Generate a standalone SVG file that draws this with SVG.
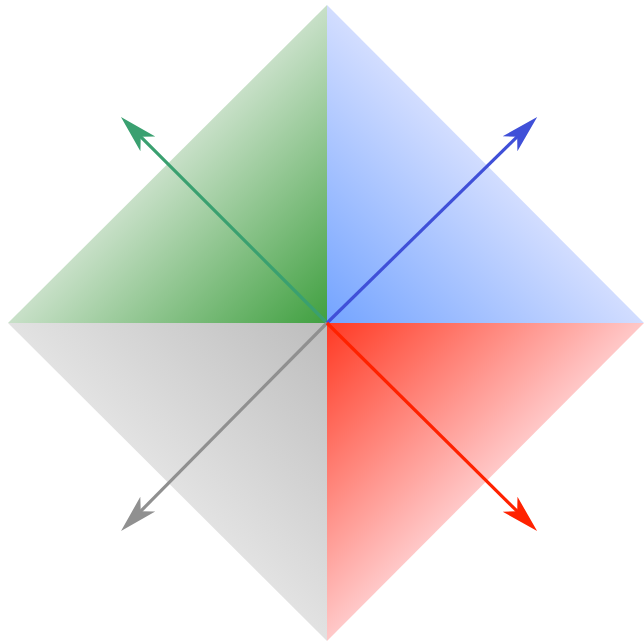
<svg xmlns="http://www.w3.org/2000/svg" width="644" height="643" viewBox="0 0 644 643">
<defs>
<linearGradient id="gG" gradientUnits="userSpaceOnUse" x1="327" y1="323" x2="167.5" y2="164"><stop offset="0" stop-color="#40a040"/><stop offset="1" stop-color="#c8e0c8"/></linearGradient>
<linearGradient id="gB" gradientUnits="userSpaceOnUse" x1="327" y1="323" x2="485.5" y2="164"><stop offset="0" stop-color="#74a4ff"/><stop offset="1" stop-color="#d2ddff"/></linearGradient>
<linearGradient id="gY" gradientUnits="userSpaceOnUse" x1="327" y1="323" x2="167.5" y2="482"><stop offset="0" stop-color="#bdbdbd"/><stop offset="1" stop-color="#e2e2e2"/></linearGradient>
<linearGradient id="gR" gradientUnits="userSpaceOnUse" x1="327" y1="323" x2="485.5" y2="482"><stop offset="0" stop-color="#ff3a24"/><stop offset="1" stop-color="#ffc8c8"/></linearGradient>
<path id="head" d="M20,0 L-18,-10.5 L-8,0 L-18,10.5 Z"/>
<marker id="aG" markerUnits="userSpaceOnUse" markerWidth="44" markerHeight="26" refX="0" refY="0" viewBox="-20 -13 44 26" orient="auto" overflow="visible"><use href="#head" fill="#3aa070"/></marker>
<marker id="aB" markerUnits="userSpaceOnUse" markerWidth="44" markerHeight="26" refX="0" refY="0" viewBox="-20 -13 44 26" orient="auto" overflow="visible"><use href="#head" fill="#4050d8"/></marker>
<marker id="aY" markerUnits="userSpaceOnUse" markerWidth="44" markerHeight="26" refX="0" refY="0" viewBox="-20 -13 44 26" orient="auto" overflow="visible"><use href="#head" fill="#909090"/></marker>
<marker id="aR" markerUnits="userSpaceOnUse" markerWidth="44" markerHeight="26" refX="0" refY="0" viewBox="-20 -13 44 26" orient="auto" overflow="visible"><use href="#head" fill="#ff2200"/></marker>
</defs>
<style>.ar{stroke-width:3.2;fill:none}</style>
<g id="quad-green"><polygon points="327,5 8,323 327,323" fill="url(#gG)"/></g>
<g id="quad-blue"><polygon points="327,5 644,323 327,323" fill="url(#gB)"/></g>
<g id="quad-gray"><polygon points="8,323 327,641 327,323" fill="url(#gY)"/></g>
<g id="quad-red"><polygon points="644,323 327,641 327,323" fill="url(#gR)"/></g>
<g id="connectors">
<line class="ar" x1="327" y1="323" x2="135.1" y2="131.1" stroke="#3aa070" marker-end="url(#aG)"/>
<line class="ar" x1="327" y1="323" x2="522.9" y2="131.1" stroke="#4050d8" marker-end="url(#aB)"/>
<line class="ar" x1="327" y1="323" x2="135.1" y2="516.9" stroke="#909090" marker-end="url(#aY)"/>
<line class="ar" x1="327" y1="323" x2="522.9" y2="516.9" stroke="#ff2200" marker-end="url(#aR)"/>
</g>
</svg>
